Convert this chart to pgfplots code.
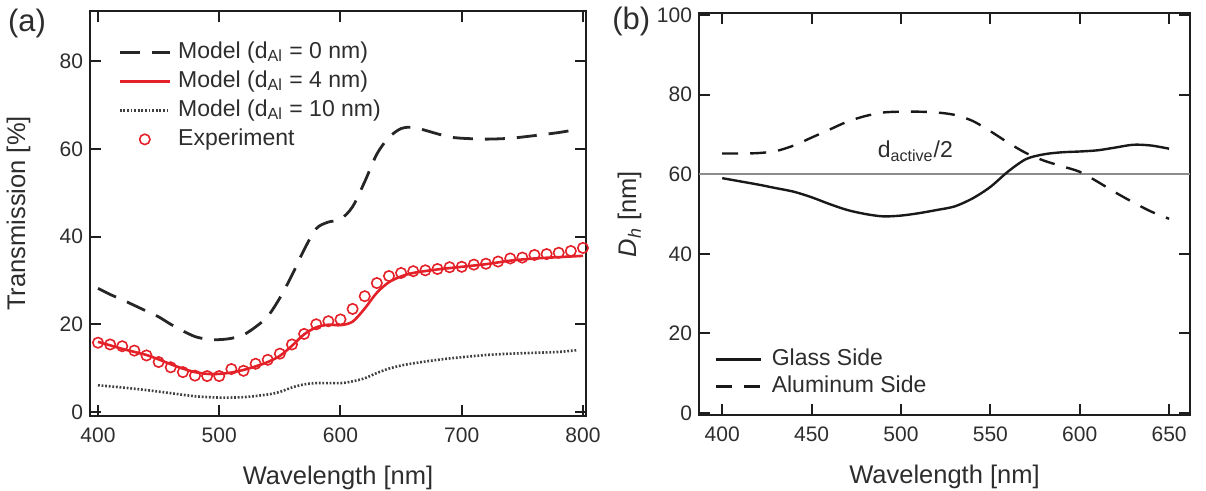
\documentclass[border=0pt]{standalone}
\usepackage{fontspec}
\setmainfont{Liberation Sans}
\usepackage{pgfplots}
\pgfplotsset{compat=1.18}
\definecolor{myred}{RGB}{228,32,40}
\definecolor{txt}{RGB}{45,45,45}
\definecolor{frm}{RGB}{30,30,30}
\pgfplotsset{
  common/.style={
    scale only axis,
    clip=false,
    anchor=south west,
    axis line style={line width=1.1pt, frm},
    tick style={line width=1pt, frm},
    major tick length=5.5pt,
    tick align=inside,
    /pgf/number format/assume math mode=true,
    ticklabel style={font=\fontsize{10.5}{12}\selectfont, text=txt},
    label style={font=\fontsize{12.75}{15}\selectfont, text=txt},
    xticklabel style={yshift=-2.5pt},
    xlabel style={at={(axis description cs:0.5,0)}, anchor=base, yshift=-34.5pt},
    legend cell align=left,
  },
  lineimg/.style={legend image code/.code={\draw[##1] (0pt,0pt) -- (#1,0pt);}},
  circimg/.style={legend image code/.code={\draw[mark repeat=2,mark phase=2,##1] plot coordinates {(0pt,0pt) (#1,0pt) (2*#1,0pt)};}},
}
\begin{document}
\begin{tikzpicture}
\useasboundingbox (0,0) rectangle (603pt,245.5pt);
% ---------------- panel (a)
\begin{axis}[common,
  at={(45pt,37.5pt)}, width=248pt, height=202.5pt,
  xmin=393.4, xmax=802.5, ymin=-0.9, ymax=91.4,
  xtick={400,500,600,700,800}, ytick={0,20,40,60,80},
  xlabel={Wavelength [nm]},
  ylabel={Transmission [\%]},
  ylabel style={at={(axis description cs:-0.131,0.5)}, anchor=base},
  legend style={at={(axis description cs:0.0565,0.926)}, anchor=north west,
    draw=none, fill=none, inner sep=0pt, row sep=3.5pt, column sep=3.5pt,
    font=\fontsize{11.5}{13}\selectfont, text=txt,
    nodes={inner sep=0pt, text height=8.5pt, text depth=2.5pt}},
]
\addplot[black!85, line width=1.4pt, smooth, dash pattern=on 10pt off 6pt, lineimg=25pt] coordinates {
(400,28.2) (410,26.8) (420,25.6) (430,24.3) (440,23.0) (450,21.7) (460,20.0)
(470,18.5) (480,17.2) (490,16.6) (500,16.5) (510,16.8) (520,17.6) (530,19.4)
(540,21.8) (550,26.0) (560,31.2) (570,37.0) (580,41.8) (590,43.3) (600,43.9)
(610,46.8) (620,52.5) (630,58.8) (640,62.6) (650,64.6) (660,64.9) (670,64.2)
(680,63.4) (690,62.7) (700,62.4) (720,62.2) (740,62.4) (760,63.0) (780,63.7) (795,64.4)};
\addlegendentry{Model (d\textsubscript{Al} = 0 nm)}
\addplot[myred, line width=1.3pt, smooth, lineimg=25pt] coordinates {
(400,16.0) (410,15.2) (420,14.4) (430,13.7) (440,13.0) (450,12.0) (460,10.9)
(470,9.9) (480,9.1) (490,8.7) (500,8.7) (510,9.0) (520,9.6) (530,10.4)
(540,11.4) (550,12.8) (560,15.1) (570,17.7) (580,19.3) (590,19.9) (600,19.8)
(610,20.6) (620,23.6) (630,27.2) (640,29.6) (650,30.9) (660,31.7) (680,32.5)
(700,33.1) (720,33.7) (740,34.5) (760,35.0) (780,35.3) (800,35.6)};
\addlegendentry{Model (d\textsubscript{Al} = 4 nm)}
\addplot[black!75, line width=1.3pt, smooth, dash pattern=on 0.9pt off 0.9pt, lineimg=25pt] coordinates {
(400,6.1) (420,5.6) (440,5.0) (460,4.3) (480,3.6) (500,3.3) (520,3.4) (540,4.0)
(550,4.6) (560,5.6) (570,6.3) (580,6.6) (600,6.6) (610,7.0) (620,7.7) (630,8.9)
(640,9.9) (650,10.6) (660,11.1) (680,11.9) (700,12.5) (720,13.0) (740,13.3)
(760,13.5) (780,13.7) (795,14.1)};
\addlegendentry{Model (d\textsubscript{Al} = 10 nm)}
\addplot[only marks, mark=o, mark size=2.6pt, myred, mark options={line width=0.8pt}, circimg=12.5pt] coordinates {
(400,15.8) (410,15.4) (420,15.0) (430,14.0) (440,12.9) (450,11.4) (460,10.2)
(470,9.1) (480,8.3) (490,8.2) (500,8.2) (510,9.8) (520,9.4) (530,11.0)
(540,11.9) (550,13.3) (560,15.4) (570,17.8) (580,20.0) (590,20.7) (600,21.1)
(610,23.5) (620,26.4) (630,29.4) (640,31.0) (650,31.7) (660,32.1) (670,32.3)
(680,32.6) (690,33.0) (700,33.1) (710,33.6) (720,33.8) (730,34.3) (740,35.0)
(750,35.2) (760,35.8) (770,36.0) (780,36.3) (790,36.7) (800,37.4)};
\addlegendentry{Experiment}
\node[font=\fontsize{15.5}{18}\selectfont, text=txt] at (axis description cs:-0.127,0.968) {(a)};
\end{axis}
% ---------------- panel (b)
\begin{axis}[common,
  at={(349.5pt,38pt)}, width=245.5pt, height=201pt,
  xmin=387, xmax=661.7, ymin=-0.5, ymax=100.5,
  xtick={400,450,500,550,600,650}, ytick={0,20,40,60,80,100},
  xlabel={Wavelength [nm]},
  ylabel={\textit{D}\textsubscript{\textit{h}} [nm]},
  ylabel style={at={(axis description cs:-0.128,0.5)}, anchor=base},
  legend style={at={(axis description cs:0.0305,0.1667)}, anchor=north west,
    draw=none, fill=none, inner sep=0pt, row sep=2.5pt, column sep=5pt,
    font=\fontsize{11.5}{13}\selectfont, text=txt,
    nodes={inner sep=0pt, text height=8.5pt, text depth=2.5pt}},
]
\addplot[black!45, line width=0.7pt, forget plot] coordinates {(387,60) (661.7,60)};
\addplot[black!90, line width=1.2pt, smooth, lineimg=22.5pt] coordinates {
(400,59.0) (410,58.2) (420,57.4) (430,56.5) (440,55.6) (450,54.2) (460,52.5)
(470,51.0) (480,50.0) (490,49.4) (500,49.6) (510,50.2) (520,51.0) (530,51.9)
(540,53.9) (550,56.8) (560,60.7) (570,63.8) (580,65.0) (590,65.5) (600,65.7)
(610,66.0) (620,66.7) (630,67.4) (640,67.2) (650,66.4)};
\addlegendentry{Glass Side}
\addplot[black!90, line width=1.2pt, smooth, dash pattern=on 8pt off 6pt, lineimg=22.5pt] coordinates {
(400,65.2) (410,65.2) (420,65.3) (430,65.8) (440,67.2) (450,69.2) (460,71.2)
(470,73.2) (480,74.6) (490,75.5) (500,75.7) (510,75.7) (520,75.5) (530,74.9)
(540,73.4) (550,70.8) (560,67.9) (570,65.3) (580,63.4) (590,62.0) (600,60.6)
(610,58.1) (620,55.4) (630,52.9) (640,50.6) (650,48.8)};
\addlegendentry{Aluminum Side}
\node[font=\fontsize{11.5}{13}\selectfont, text=txt] at (axis cs:508,65.8) {d\textsubscript{active}/2};
\node[font=\fontsize{15.5}{18}\selectfont, text=txt] at (axis description cs:-0.138,0.978) {(b)};
\end{axis}
\end{tikzpicture}
\end{document}
